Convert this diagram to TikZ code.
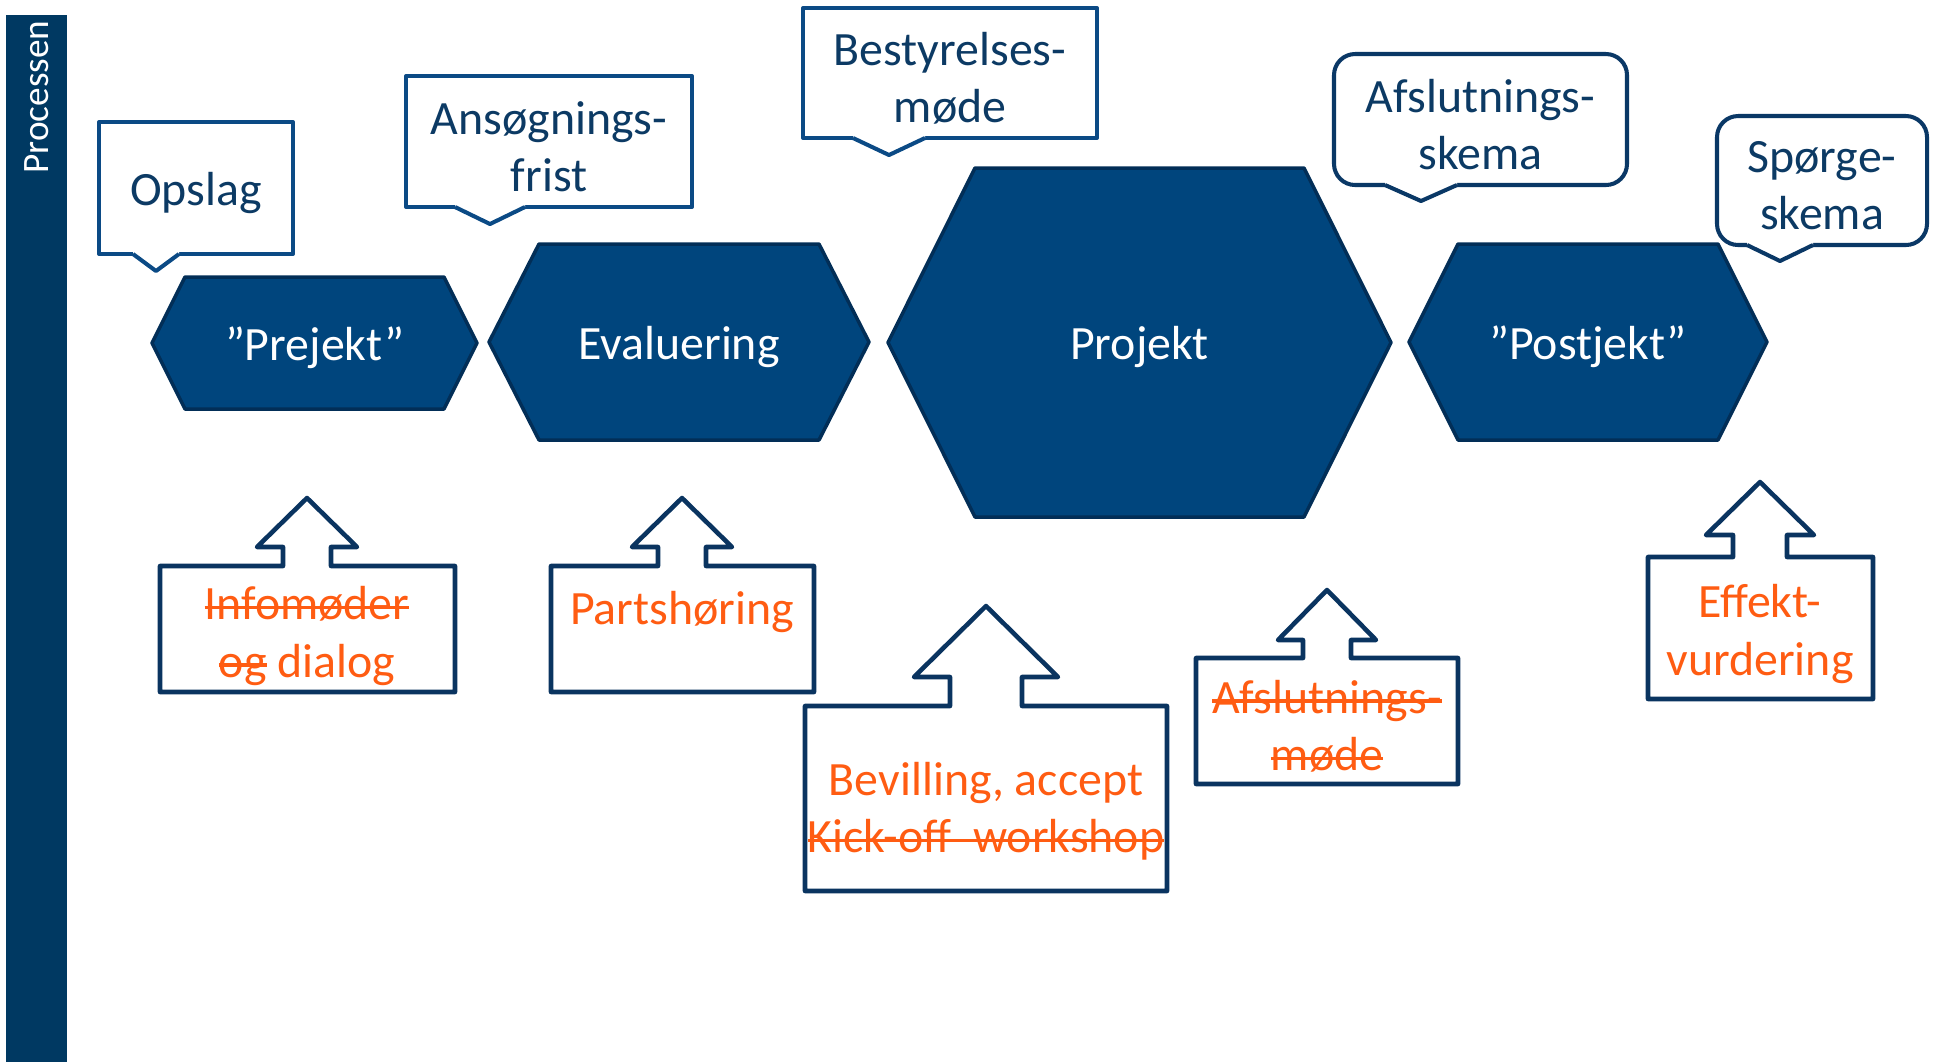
\documentclass[tikz,border=0pt]{standalone}
\usepackage{fontspec}
\setmainfont{Carlito}
\usepackage{tikz}
\usepackage{xcolor}
\definecolor{barBlue}{RGB}{0,57,98}
\definecolor{hexFill}{RGB}{0,69,125}
\definecolor{hexLine}{RGB}{2,46,87}
\definecolor{bubbleBlue}{RGB}{11,74,133}
\definecolor{bubbleDark}{RGB}{10,56,102}
\definecolor{bubbleText}{RGB}{12,58,100}
\definecolor{arrowLine}{RGB}{10,52,96}
\definecolor{orangeText}{RGB}{255,92,18}
\newcommand{\strk}[1]{\setbox0=\hbox{#1}\rlap{\rule[0.22em]{\wd0}{0.9pt}}\box0\relax}

\begin{document}
\begin{tikzpicture}
		[x=0.01cm,y=-0.01cm,
		hexDecorate/.style={fill=hexFill,draw=hexLine,line width=1pt,line join=round},%
		bubbleDecorate/.style={line width=1.15pt,line join=round},%
		arrowDecorate/.style={draw=arrowLine,fill=white,line width=1.3pt,line join=round},%
		textDecorate/.style={align=center,inner sep=0pt,yshift=-1.4pt,font=\fontsize{13.6}{16.3}\selectfont}]
		\useasboundingbox (0,0) rectangle (1933,1062);
		%% side bar
		\fill[barBlue] (6,15) rectangle (67,1062);
		\node (bar) [rotate=90,anchor=east,inner sep=0pt,text=white,
			font=\fontsize{10.6}{12}\selectfont] at (37,20) {Processen};
		%% phases
		\foreach \name/\xl/\xr/\yt/\yb/\ins/\txt in {
			prejekt/152/477/277/409/33/{”Prejekt”}, evaluering/489/869/244/440/50/{Evaluering},
			projekt/888/1391/168/517/87/{Projekt}, postjekt/1409/1767/244/440/49/{”Postjekt”}}
		{
			\pgfmathsetmacro\yc{(\yt+\yb)/2}
			\draw[hexDecorate] (\xl,\yc) -- (\xl+\ins,\yt) -- (\xr-\ins,\yt) -- (\xr,\yc)
				-- (\xr-\ins,\yb) -- (\xl+\ins,\yb) -- cycle;
			\node (\name) [textDecorate,text=white] at ({(\xl+\xr)/2},\yc) {\txt};
		}
		%% speech bubbles above
		\foreach \name/\xl/\xr/\yt/\yb/\tx/\hw/\ty/\rc/\col/\txt in {
			opslag/99/293/122/254/156/23/271/0pt/bubbleBlue/{Opslag},
			frist/406/692/76/207/490/35/224/0pt/bubbleBlue/{Ansøgnings-\\frist},
			bestyrelse/803/1097/8/138/889/36/155/0pt/bubbleBlue/{Bestyrelses-\\møde},
			afslutning/1334/1627/54/185/1421/36/201/6pt/bubbleDark/{Afslutnings-\\skema},
			spoerge/1717/1927/116/245/1780/33/261/6pt/bubbleDark/{Spørge-\\skema}}
		{
			\draw[bubbleDecorate,draw=\col,fill=white,rounded corners=\rc] (\xl,\yt) rectangle (\xr,\yb);
			\fill[white] (\tx-\hw,\yb-4) -- (\tx-\hw,\yb) -- (\tx,\ty) -- (\tx+\hw,\yb) -- (\tx+\hw,\yb-4) -- cycle;
			\draw[bubbleDecorate,draw=\col] (\tx-\hw,\yb) -- (\tx,\ty) -- (\tx+\hw,\yb);
			\node (\name) [textDecorate,text=bubbleText] at ({(\xl+\xr)/2},{(\yt+\yb)/2}) {\txt};
		}
		%% arrow boxes below
		\foreach \name/\cx/\xl/\xr/\yt/\yb/\sw/\hw/\hb/\ty/\tyy/\txt in {
			info/307/160/455/566/692/24/50/547/498/631/{\strk{Infomøder}\\\strk{og} dialog},
			partshoering/682/551/814/566/692/24/50/547/498/607/{Partshøring},
			bevilling/986/805/1167/706/891/36/72/677/606/806/{Bevilling, accept\\\strk{Kick-off\ \ workshop}},
			afslutmoede/1327/1196/1458/658/784/24/49/640/590/721/{\strk{Afslutnings-}\\\strk{møde}},
			effekt/1760/1648/1873/557/699/27/54/535/482/629/{Effekt-\\vurdering}}
		{
			\draw[arrowDecorate] (\xl,\yt) -- (\cx-\sw,\yt) -- (\cx-\sw,\hb) -- (\cx-\hw,\hb) -- (\cx,\ty)
				-- (\cx+\hw,\hb) -- (\cx+\sw,\hb) -- (\cx+\sw,\yt) -- (\xr,\yt) -- (\xr,\yb) -- (\xl,\yb) -- cycle;
			\node (\name) [textDecorate,text=orangeText] at (\cx,\tyy) {\txt};
		}
	\end{tikzpicture}
\end{document}
